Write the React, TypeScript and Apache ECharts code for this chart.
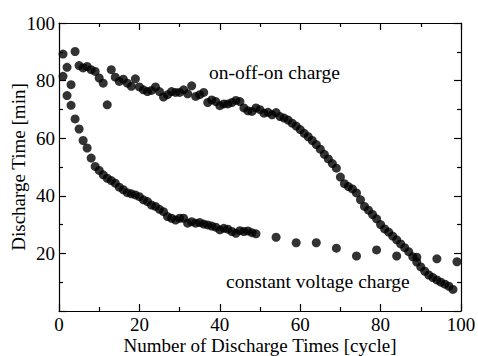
import React, { useEffect, useRef } from "react";
import * as echarts from "echarts";

const onOffOnCycles: number[] = Array.from({ length: 98 }, (_, i) => i + 1);
const onOffOnValues: number[] = [
  89.2, 84.6, 78.6, 90.1, 85.2, 84.4, 84.9, 83.8, 83.2, 80.9,
  79.1, 71.6, 83.8, 81.2, 79.7, 80.5, 79.1, 78.0, 80.6, 77.8,
  76.8, 76.2, 76.6, 77.8, 76.2, 74.3, 75.1, 76.2, 75.9, 75.9,
  76.8, 75.4, 78.2, 74.5, 75.1, 75.9, 72.4, 73.3, 72.7, 71.3,
  71.9, 71.9, 72.4, 73.1, 72.7, 70.5, 69.5, 69.3, 70.5, 69.9,
  68.7, 69.0, 68.1, 68.9, 67.5, 67.0, 66.3, 65.2, 64.2, 63.0,
  61.7, 60.5, 59.2, 57.8, 56.2, 54.4, 52.8, 51.2, 49.6, 46.5,
  44.2, 43.2, 42.4, 41.0, 38.6, 36.3, 35.0, 33.5, 32.0, 30.0,
  28.5, 27.4, 26.0, 24.7, 23.3, 22.0, 20.6, 18.8, 17.0, 15.3,
  13.8, 12.5, 11.6, 10.8, 10.0, 9.3, 8.6, 7.5,
];

const cvCycles: number[] = [
  1, 2, 3, 4, 5, 6, 7, 8, 9, 10,
  11, 12, 13, 14, 15, 16, 17, 18, 19, 20,
  21, 22, 23, 24, 25, 26, 27, 28, 29, 30,
  31, 32, 33, 34, 35, 36, 37, 38, 39, 40,
  41, 42, 43, 44, 45, 46, 47, 48, 49,
  54, 59, 64, 69, 74, 79, 84, 89, 94, 99,
];
const cvValues: number[] = [
  81.5, 74.8, 71.4, 66.7, 63.2, 59.2, 56.6, 53.1, 50.2, 48.8,
  47.3, 46.1, 45.3, 44.4, 43.0, 42.1, 41.1, 40.7, 40.3, 39.7,
  38.6, 38.0, 36.8, 36.3, 35.3, 34.5, 32.8, 32.2, 31.6, 32.2,
  32.2, 30.5, 31.0, 30.5, 30.7, 30.2, 29.9, 29.5, 29.1, 28.2,
  28.7, 28.4, 27.6, 27.0, 27.9, 27.6, 27.8, 27.2, 26.8,
  25.6, 23.7, 23.7, 21.8, 19.1, 21.2, 19.1, 18.7, 18.1, 17.1,
];

const xTicks: number[] = [0, 20, 40, 60, 80, 100];
const yTicks: number[] = [0, 20, 40, 60, 80, 100];
const xTitle = "Number of Discharge Times [cycle]";
const yTitle = "Discharge Time [min]";
const labelOnOff = "on-off-on charge";
const labelCV = "constant voltage charge";

const FONT = "Liberation Serif";

export default function App() {
  const ref = useRef<HTMLDivElement>(null);
  useEffect(() => {
    if (!ref.current) return;
    const chart = echarts.init(ref.current, null, { renderer: "svg" });
    const lineStyle = { color: "#000", width: 1.2 };
    const tickCommon = {
      show: true,
      inside: true,
      length: 7,
      lineStyle: { color: "#000", width: 1.2 },
    };
    const minorCommon = {
      show: true,
      splitNumber: 2,
      length: 4,
      lineStyle: { color: "#000", width: 1.2 },
    };
    const labelStyle = {
      color: "#000",
      fontFamily: FONT,
      fontSize: 19,
    };
    chart.setOption({
      animation: false,
      backgroundColor: "#fff",
      grid: {
        left: 59,
        right: 17,
        top: 23,
        bottom: 45,
        containLabel: false,
        outerBoundsMode: "none",
      },
      xAxis: [
        {
          type: "value",
          min: xTicks[0],
          max: xTicks[xTicks.length - 1],
          interval: 20,
          position: "bottom",
          axisLine: { show: true, lineStyle },
          axisTick: tickCommon,
          minorTick: minorCommon,
          splitLine: { show: false },
          axisLabel: { ...labelStyle, margin: 4 },
          name: xTitle,
          nameLocation: "middle",
          nameGap: 25,
          nameMoveOverlap: false,
          nameTextStyle: { ...labelStyle },
        },
        {
          type: "value",
          min: xTicks[0],
          max: xTicks[xTicks.length - 1],
          interval: 20,
          position: "top",
          axisLine: { show: true, onZero: false, lineStyle },
          axisTick: tickCommon,
          minorTick: minorCommon,
          splitLine: { show: false },
          axisLabel: { show: false },
        },
      ],
      yAxis: [
        {
          type: "value",
          min: yTicks[0],
          max: yTicks[yTicks.length - 1],
          interval: 20,
          position: "left",
          axisLine: { show: true, lineStyle },
          axisTick: tickCommon,
          minorTick: minorCommon,
          splitLine: { show: false },
          axisLabel: { ...labelStyle, margin: 4, showMinLabel: false },
          name: yTitle,
          nameLocation: "middle",
          nameGap: 31,
          nameMoveOverlap: false,
          nameTextStyle: { ...labelStyle },
        },
        {
          type: "value",
          min: yTicks[0],
          max: yTicks[yTicks.length - 1],
          interval: 20,
          position: "right",
          axisLine: { show: true, onZero: false, lineStyle },
          axisTick: tickCommon,
          minorTick: minorCommon,
          splitLine: { show: false },
          axisLabel: { show: false },
        },
      ],
      series: [
        {
          name: labelOnOff,
          type: "scatter",
          xAxisIndex: 0,
          yAxisIndex: 0,
          symbol: "circle",
          symbolSize: 9,
          itemStyle: { color: "#000" },
          data: onOffOnCycles.map((c, i) => [c, onOffOnValues[i]]),
        },
        {
          name: labelCV,
          type: "scatter",
          xAxisIndex: 0,
          yAxisIndex: 0,
          symbol: "circle",
          symbolSize: 9,
          itemStyle: { color: "#000" },
          data: cvCycles.map((c, i) => [c, cvValues[i]]),
        },
      ],
      graphic: [
        {
          type: "text",
          left: 209,
          top: 62,
          style: { text: labelOnOff, fill: "#000", fontFamily: FONT, fontSize: 19.5 },
        },
        {
          type: "text",
          left: 226,
          top: 271,
          style: { text: labelCV, fill: "#000", fontFamily: FONT, fontSize: 19.5 },
        },
      ],
    });
    return () => chart.dispose();
  }, []);
  return (
    <div
      ref={ref}
      style={{ position: "fixed", left: 0, top: 0, width: 478, height: 356 }}
    />
  );
}
